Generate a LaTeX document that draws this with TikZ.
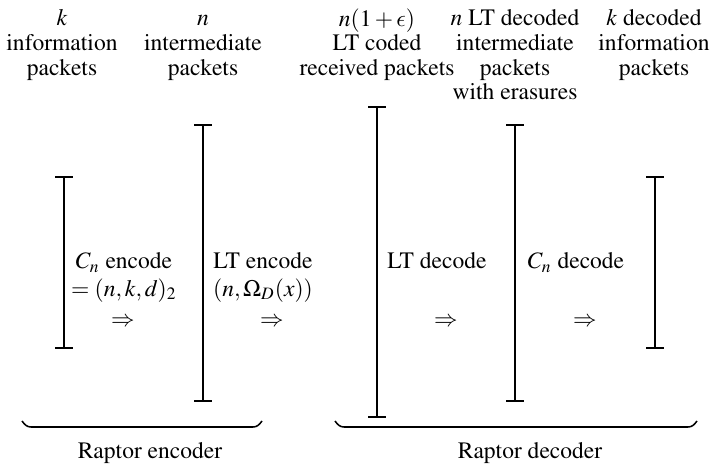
\documentclass[tikz,border=0pt]{standalone}
\usepackage[T1]{fontenc}
\usepackage{mathptmx}
\DeclareSymbolFont{cmletters}{OML}{cmm}{m}{it}
\DeclareMathSymbol{\lunateeps}{\mathord}{cmletters}{"0F}
\DeclareSymbolFont{cmsymbols}{OMS}{cmsy}{m}{n}
\DeclareMathSymbol{\cmRightarrow}{\mathrel}{cmsymbols}{"29}
\usetikzlibrary{arrows.meta}
\begin{document}
\begin{tikzpicture}[x=0.425pt,y=-0.425pt,
  lbl/.style={inner sep=0pt, align=center, font=\rmfamily\fontsize{10}{10.5}\selectfont},
  bar/.style={line width=0.65pt, {Bar[width=7.5pt]}-{Bar[width=7.5pt]}},
  brace/.style={line width=0.65pt}]
\useasboundingbox (0,0) rectangle (712,464);
% column headings
\node[lbl, anchor=north] (h1) at (62,8) {\strut$k$\\information\\packets};
\node[lbl, anchor=north] (h2) at (203,8) {\strut$n$\\intermediate\\packets};
\node[lbl, anchor=north] (h3) at (377,8) {\strut$n(1+\lunateeps)$\\LT coded\\received packets};
\node[lbl, anchor=north] (h4) at (515,8) {\strut$n$ LT decoded\\intermediate\\packets\\with erasures};
\node[lbl, anchor=north] (h5) at (654,8) {\strut$k$ decoded\\information\\packets};
% bars
\coordinate (b1t) at (64,176);  \coordinate (b1b) at (64,349);
\coordinate (b2t) at (203,124); \coordinate (b2b) at (203,402);
\coordinate (b3t) at (377,106); \coordinate (b3b) at (377,418);
\coordinate (b4t) at (515,124); \coordinate (b4b) at (515,402);
\coordinate (b5t) at (655,176); \coordinate (b5b) at (655,349);
\draw[bar] (b1t) -- (b1b);
\draw[bar] (b2t) -- (b2b);
\draw[bar] (b3t) -- (b3b);
\draw[bar] (b4t) -- (b4b);
\draw[bar] (b5t) -- (b5b);
% step labels
\node[lbl, anchor=north] (m1) at (124,251) {\strut$C_n$ encode\\$=(n,k,d)_2$};
\node[lbl, anchor=north] (m2) at (263,251) {\strut LT encode\\$(n,\Omega_{D}(x))$};
\node[lbl, anchor=north] (m3) at (437,251) {\strut LT decode};
\node[lbl, anchor=north] (m4) at (576,251) {\strut$C_n$ decode};
\node[lbl] (a1) at (123,322) {$\cmRightarrow$};
\node[lbl] (a2) at (272,322) {$\cmRightarrow$};
\node[lbl] (a3) at (446,322) {$\cmRightarrow$};
\node[lbl] (a4) at (585,322) {$\cmRightarrow$};
% braces
\coordinate (e1l) at (22,421); \coordinate (e1r) at (262,421);
\coordinate (e2l) at (335,421); \coordinate (e2r) at (697,421);
\draw[brace] (e1l) .. controls (25,425) and (27,427) .. (31,427) -- (253,427) .. controls (257,427) and (259,425) .. (e1r);
\draw[brace] (e2l) .. controls (338,425) and (340,427) .. (344,427) -- (688,427) .. controls (692,427) and (694,425) .. (e2r);
\node[lbl, anchor=base] (r1) at (150,459) {Raptor encoder};
\node[lbl, anchor=base] (r2) at (530,459) {Raptor decoder};
\end{tikzpicture}
\end{document}
